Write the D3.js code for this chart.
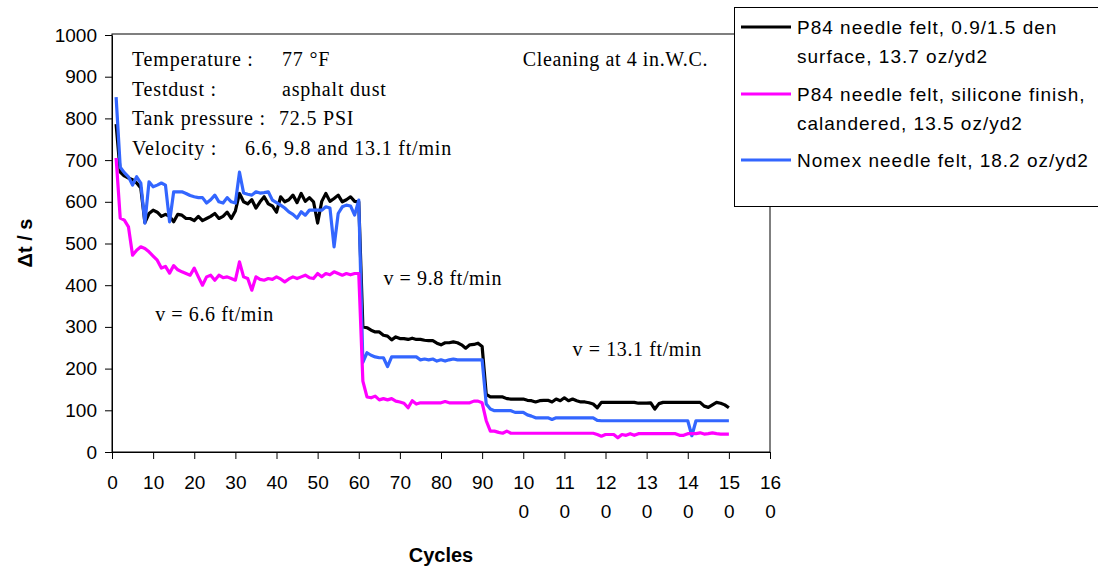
<!DOCTYPE html>
<html><head><meta charset="utf-8">
<script src="https://cdn.jsdelivr.net/npm/d3@7"></script>
<style>body{margin:0;background:#fff;}svg{display:block;}</style>
</head><body>
<svg id="chart" width="1098" height="566"></svg>
<script>
// ---- data ----
const seriesNames = ["P84 needle felt, 0.9/1.5 den surface, 13.7 oz/yd2",
  "P84 needle felt, silicone finish, calandered, 13.5 oz/yd2",
  "Nomex needle felt, 18.2 oz/yd2"];
const legendLines = [["P84 needle felt, 0.9/1.5 den","surface, 13.7 oz/yd2"],
  ["P84 needle felt, silicone finish,","calandered, 13.5 oz/yd2"],
  ["Nomex needle felt, 18.2 oz/yd2"]];
const seriesColors = ["#000000", "#ff00ff", "#3366ff"];

const p84Den = [
 786,671,662,657,653,645,633,550,572,580,
 575,565,570,565,552,570,568,560,560,555,
 565,555,560,565,572,560,565,575,560,578,
 620,600,595,605,585,600,612,595,590,575,
 612,600,605,616,598,620,601,610,600,549,
 601,620,601,608,616,600,605,612,601,600,
 300,298,292,288,288,280,278,269,276,272,
 272,270,273,270,270,268,267,267,261,257,
 262,262,264,262,257,249,257,258,261,253,
 138,132,132,132,132,128,127,127,127,127,
 124,123,120,123,124,124,120,127,123,130,
 123,127,123,120,120,118,115,106,119,119,
 119,119,119,119,119,119,119,117,117,117,
 118,103,116,119,119,119,119,119,119,119,
 119,119,119,110,107,113,119,117,113,106];

const p84Sil = [
 705,561,556,540,472,484,492,488,480,470,
 460,441,445,429,447,437,432,428,424,441,
 420,400,420,424,412,424,418,420,416,412,
 456,420,416,388,420,414,412,416,414,420,
 415,408,415,420,416,420,424,418,416,428,
 420,428,425,432,428,424,428,425,428,428,
 170,132,130,134,125,128,125,128,122,120,
 117,106,123,115,118,118,118,118,118,118,
 121,118,118,118,118,118,118,122,122,118,
 75,50,50,47,45,50,45,45,45,45,
 45,45,45,45,45,45,45,45,45,45,
 45,45,45,45,45,45,45,42,38,42,
 42,42,34,42,40,44,40,44,44,44,
 44,44,44,44,44,44,44,40,40,44,
 44,44,46,43,44,46,44,43,43,43];

const nomex = [
 851,683,670,660,640,660,645,549,648,636,
 640,645,640,552,624,624,624,620,615,612,
 610,610,597,605,616,600,597,610,600,597,
 671,621,618,616,624,621,622,624,604,598,
 592,585,576,570,561,576,568,580,580,580,
 580,588,585,492,572,588,592,590,568,604,
 215,238,232,228,226,226,205,228,228,228,
 228,228,228,228,221,223,221,223,218,221,
 218,221,223,221,221,221,221,221,221,221,
 115,103,99,99,99,99,99,95,95,95,
 89,86,82,82,82,82,78,82,82,82,
 82,82,82,82,82,82,82,76,75,75,
 75,75,75,75,75,75,75,75,75,75,
 75,75,75,75,75,75,75,75,75,75,
 39,75,75,75,75,75,75,75,75,75];

const xTickValues = [0,10,20,30,40,50,60,70,80,90,100,110,120,130,140,150,160];
const yTickValues = [0,100,200,300,400,500,600,700,800,900,1000];

const infoLines = [
 {label:"Temperature :", value:"77 °F"},
 {label:"Testdust :", value:"asphalt dust"},
 {label:"Tank pressure :", value:"72.5 PSI"},
 {label:"Velocity :", value:"6.6, 9.8 and 13.1 ft/min"}];
const notes = [
 {text:"Cleaning at 4 in.W.C.", x:99.9, y:925},
 {text:"v = 9.8 ft/min", x:66, y:400},
 {text:"v = 6.6 ft/min", x:10.5, y:315},
 {text:"v = 13.1 ft/min", x:112, y:230}];

// ---- drawing ----
const svg = d3.select("#chart");
const x = d3.scaleLinear().domain([0,160]).range([112,770]);
const y = d3.scaleLinear().domain([0,1000]).range([452,35]);

// title (cut off at top, as in the source)
svg.append("text").attr("x",441).attr("y",-6).attr("text-anchor","middle")
  .attr("font-family","Liberation Sans, Arial").attr("font-weight","bold").attr("font-size",20)
  .text("Filter cycle time depending on filtration velocity");

// plot frame
svg.append("rect").attr("x",x(0)).attr("y",y(1000)-1).attr("width",x(160)-x(0)).attr("height",y(0)-y(1000)+1)
  .attr("fill","none").attr("stroke","#000").attr("stroke-width",1);

// y axis
const yAxis = svg.append("g").attr("transform",`translate(${x(0)},0)`)
  .call(d3.axisLeft(y).tickValues(yTickValues).tickFormat(d3.format("d")).tickSize(7).tickSizeOuter(0).tickPadding(8));
yAxis.select(".domain").attr("stroke","#000");
yAxis.selectAll("text").attr("font-family","Liberation Sans, Arial").attr("font-size",19).attr("fill","#000");

// x axis
const xAxis = svg.append("g").attr("transform",`translate(0,${y(0)})`)
  .call(d3.axisBottom(x).tickValues(xTickValues).tickSize(7).tickSizeOuter(0).tickFormat(""));
xAxis.select(".domain").attr("stroke","#000");
xAxis.selectAll(".tick").each(function(d){
  const s = String(d);
  const t = d3.select(this).append("text").attr("fill","#000").attr("text-anchor","middle")
    .attr("font-family","Liberation Sans, Arial").attr("font-size",19);
  t.append("tspan").attr("x",0).attr("y",37).text(s.slice(0,2));
  if (s.length > 2) t.append("tspan").attr("x",0).attr("y",66).text(s.slice(2));
});

// axis titles
svg.append("text").attr("x",441).attr("y",562).attr("text-anchor","middle")
  .attr("font-family","Liberation Sans, Arial").attr("font-weight","bold").attr("font-size",20).text("Cycles");
svg.append("text").attr("transform","translate(32,243) rotate(-90)").attr("text-anchor","middle")
  .attr("font-family","Liberation Sans, Arial").attr("font-weight","bold").attr("font-size",20).text("\u0394t / s");

// series
const allSeries = [p84Den, p84Sil, nomex];
const line = d3.line().x((d,i)=>x(i+1)).y(d=>y(d));
[0,2,1].forEach(k=>{
  svg.append("path").datum(allSeries[k]).attr("d",line).attr("fill","none")
    .attr("stroke",seriesColors[k]).attr("stroke-width",3.2).attr("stroke-linejoin","round");
});

// info text
const serif = "Liberation Serif, Times New Roman";
infoLines.forEach((l,i)=>{
  const yy = 66 + i*29.5;
  svg.append("text").attr("x",132).attr("y",yy).attr("font-family",serif).attr("font-size",20)
    .attr("letter-spacing",0.8).text(l.label);
  const vx = i===2 ? 279 : (i===3 ? 245 : 282);
  svg.append("text").attr("x",vx).attr("y",yy).attr("font-family",serif).attr("font-size",20)
    .attr("letter-spacing",0.8).text(l.value);
});
notes.forEach(n=>{
  svg.append("text").attr("x",x(n.x)).attr("y",y(n.y)).attr("font-family",serif).attr("font-size",20)
    .attr("letter-spacing",0.6).text(n.text);
});

// legend
const lg = svg.append("g");
lg.append("rect").attr("x",734.5).attr("y",7.5).attr("width",370).attr("height",199)
  .attr("fill","#fff").attr("stroke","#000").attr("stroke-width",1);
const legY = [27, 94, 160];
legendLines.forEach((lines,k)=>{
  lg.append("line").attr("x1",741).attr("x2",791).attr("y1",legY[k]).attr("y2",legY[k])
    .attr("stroke",seriesColors[k]).attr("stroke-width",3.2);
  lines.forEach((t,j)=>{
    lg.append("text").attr("x",797).attr("y",legY[k]+7+j*29).attr("font-family","Liberation Sans, Arial")
      .attr("font-size",19).attr("letter-spacing",1).text(t);
  });
});
</script>
</body></html>
